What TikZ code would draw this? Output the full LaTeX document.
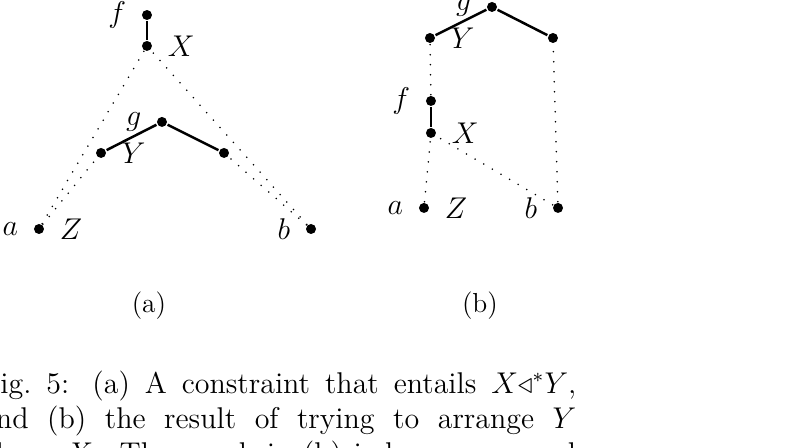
\documentclass[tikz,border=0pt]{standalone}
\usepackage{amssymb}
\usetikzlibrary{arrows,positioning}

\begin{document}
\begin{tikzpicture}
[draw=black, line width=1pt, label distance=2pt,
vertex/.style={circle, fill=black, inner sep=0pt, minimum size=4pt},
link/.style={line width=0.7pt, line cap=round, dash pattern=on 0pt off 4pt},
sub/.style={font=\fontsize{11}{13.6}\selectfont},
caption/.style={font=\fontsize{12}{14}\selectfont, anchor=north west, inner sep=0pt, text width=238pt, align=justify},
every label/.style={font=\large}]

\clip (0,0) rectangle (11.091,6.297);

% (a)
\node[vertex, label=left:$f$] (f1) at (2.066,6.086) {};
\node[vertex, label=right:$X$] (x1) at (2.066,5.651) {}
  edge (f1);
\node[vertex, label=left:$g$] (g1) at (2.277,4.583) {};
\node[vertex, label=right:$Y$] (y1) at (1.420,4.147) {}
  edge (g1);
\node[vertex] (r1) at (3.149,4.147) {}
  edge (g1);
\node[vertex, label=left:$a$, label=right:$Z$] (a1) at (0.548,3.078) {}
  edge [link] (x1)
  edge [link] (y1);
\node[vertex, label=left:$b$] (b1) at (4.372,3.078) {}
  edge [link] (x1)
  edge [link] (r1);

% (b)
\node[vertex, label=left:$g$] (g2) at (6.916,6.199) {};
\node[vertex, label=right:$Y$] (y2) at (6.044,5.763) {}
  edge (g2);
\node[vertex] (r2) at (7.773,5.763) {}
  edge (g2);
\node[vertex, label=left:$f$] (f2) at (6.058,4.878) {}
  edge [link] (y2);
\node[vertex, label=right:$X$] (x2) at (6.058,4.428) {}
  edge (f2);
\node[vertex, label=left:$a$, label=right:$Z$] (a2) at (5.960,3.374) {}
  edge [link] (x2);
\node[vertex, label=left:$b$] (b2) at (7.844,3.374) {}
  edge [link] (x2)
  edge [link] (r2);

\node[sub] (sub1) at (2.094,1.996) {(a)};
\node[sub] (sub2) at (6.747,1.996) {(b)};

% caption
\node[caption] (cap) at (-0.281,1.103)
  {Fig.~5: (a) A constraint that entails $X{\triangleleft^*}Y$,\linebreak
   and (b) the result of trying to arrange $Y$\linebreak
   above $X$. The graph in (b) is hence unsound\linebreak};
\end{tikzpicture}
\end{document}
